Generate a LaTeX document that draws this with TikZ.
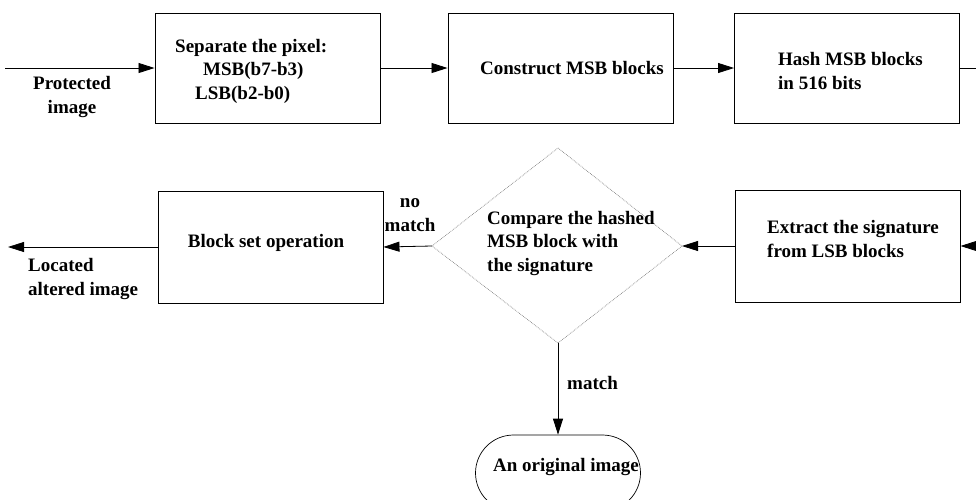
\documentclass[tikz,border=0pt]{standalone}
\usepackage{fontspec}
\setmainfont{Liberation Serif}
\usetikzlibrary{arrows.meta,shapes.geometric,shapes.misc}
\begin{document}
\begin{tikzpicture}[x=1pt,y=-1pt,
  box/.style={draw, line width=0.9pt, minimum width=225pt, minimum height=110pt, inner sep=0pt},
  txt/.style={font=\fontsize{19}{23.5}\selectfont\bfseries, inner sep=0pt, align=left},
  arr/.style={line width=0.8pt, -{Triangle[length=16pt,width=10pt]}},
  ln/.style={line width=0.8pt},
  dia/.style={line width=0.7pt, gray, densely dotted}]
\useasboundingbox (0,0) rectangle (976,499);
\clip (0,0) rectangle (976,499);

% top row boxes
\node[box] (sep) at (267.5,68) {};
\node[box] (con) at (560.5,68) {};
\node[box] (hash) at (847,68) {};
% second row boxes
\node[box, minimum height=112pt] (blk) at (270.5,247) {};
\node[box, minimum height=112pt] (ext) at (847.5,246) {};
% diamond
\coordinate (dt) at (558,148);
\coordinate (dr) at (682,246);
\coordinate (db) at (558,343);
\coordinate (dl) at (432,246);
\draw[dia] (dt) -- (dr) -- (db) -- (dl) -- cycle;
% terminal
\node[draw, rounded rectangle, line width=0.7pt, minimum width=165pt, minimum height=76pt, inner sep=0pt] (orig) at (558,473) {};

% texts
\node[txt, anchor=west] (tsep) at (175,71) {Separate the pixel:\\\hspace*{28pt}MSB(b7-b3)\\\hspace*{20pt}LSB(b2-b0)};
\node[txt] (tcon) at (572,68) {Construct MSB blocks};
\node[txt, anchor=west] (thash) at (778,71) {Hash MSB blocks\\in 516 bits};
\node[txt, anchor=west] (text) at (767,239) {Extract the signature\\from LSB blocks};
\node[txt, anchor=west] (tdia) at (487,243) {Compare the hashed\\MSB block with\\the signature};
\node[txt] (tblk) at (266,243) {Block set operation};
\node[txt, anchor=west] (torig) at (493,467) {An original image};

% labels
\node[txt, align=center] (lprot) at (72,97) {Protected\\image};
\node[txt, anchor=west] (lloc) at (28,279) {Located\\altered image};
\node[txt, align=center] (lno) at (410,215) {no\\match};
\node[txt, anchor=west] (lmatch) at (567,383) {match};

% connectors
\coordinate (in) at (5,68);
\coordinate (outR) at (976,68);
\coordinate (inR) at (980,246);
\coordinate (outL) at (8,247);
\draw[arr] (in) -- (sep.west);
\draw[arr] (sep.east) -- (con.west);
\draw[arr] (con.east) -- (hash.west);
\draw[ln] (hash.east) -- (outR);
\draw[arr] (inR) -- (ext.east);
\draw[arr] (ext.west) -- (dr);
\draw[arr] (dl) -- (blk.east);
\draw[arr] (blk.west) -- (outL);
\draw[arr] (db) -- (orig.north);
\end{tikzpicture}
\end{document}
